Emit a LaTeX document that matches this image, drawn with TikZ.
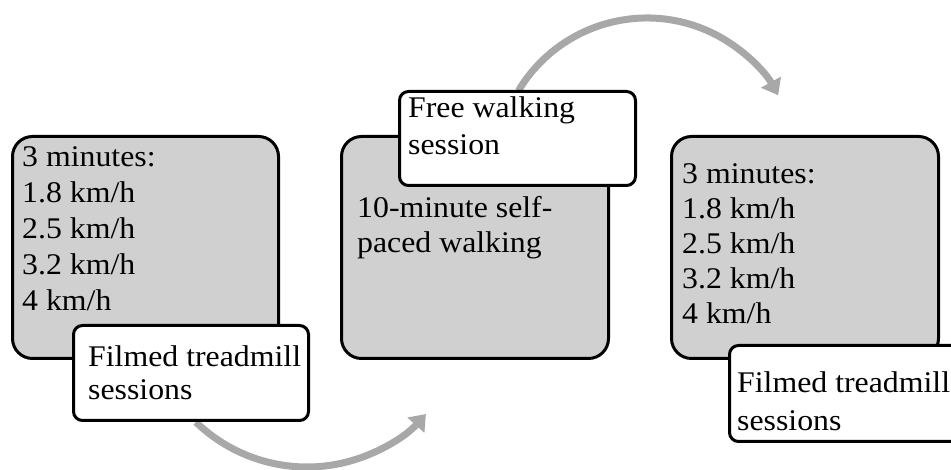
\documentclass[tikz,border=0pt]{standalone}
\usepackage{fontspec}
\setmainfont{Liberation Serif}[FakeStretch=1.06]
\usetikzlibrary{arrows.meta}
\definecolor{boxgrey}{RGB}{208,208,208}
\definecolor{arrowgrey}{RGB}{168,168,168}
\tikzset{
  greybox/.style={draw=black, fill=boxgrey, line width=3pt, rounded corners=20pt},
  whitebox/.style={draw=black, fill=white, line width=3pt, rounded corners=9pt},
  txt/.style={anchor=base west, inner sep=0pt, align=left, font=\fontsize{30}{36}\selectfont},
  flow/.style={draw=arrowgrey, line width=7pt, -{Triangle[width=22pt,length=15pt]}}
}
\begin{document}
\begin{tikzpicture}[x=1pt,y=1pt]
\useasboundingbox (0,0) rectangle (951,470);
% arcs (drawn first, under the boxes)
\coordinate (c1) at (307,163);
\coordinate (c2) at (647,302);
\draw[flow] (c1) ++(226:160) coordinate (a1s) arc[start angle=226, end angle=318, radius=160] coordinate (a1e);
\draw[flow] (c2) ++(149:150) coordinate (a2s) arc[start angle=149, end angle=29, radius=150] coordinate (a2e);
% box 1 (text anchored at the baseline of its last line)
\node[greybox, minimum width=266pt, minimum height=222pt, anchor=south west] (g1) at (11,110) {};
\node[txt] (t1) at (22,159) {3 minutes:\\1.8 km/h\\2.5 km/h\\3.2 km/h\\4 km/h};
\node[whitebox, minimum width=235pt, minimum height=95pt, anchor=south west] (w1) at (72,48) {};
\node[txt, font=\fontsize{30}{33}\selectfont] (u1) at (88,70) {Filmed treadmill\\sessions};
% box 2
\node[greybox, minimum width=267pt, minimum height=222pt, anchor=south west] (g2) at (340,110) {};
\node[txt, font=\fontsize{30}{35}\selectfont] (t2) at (357,217) {10-minute self-\\paced walking};
\node[whitebox, minimum width=236pt, minimum height=94pt, anchor=south west] (w2) at (398,283) {};
\node[txt, font=\fontsize{30}{37}\selectfont] (u2) at (408,315) {Free walking\\session};
% box 3
\node[greybox, minimum width=267pt, minimum height=222pt, anchor=south west] (g3) at (670,110) {};
\node[txt, font=\fontsize{30}{35}\selectfont] (t3) at (682,146) {3 minutes:\\1.8 km/h\\2.5 km/h\\3.2 km/h\\4 km/h};
\node[whitebox, minimum width=235pt, minimum height=96pt, anchor=south west] (w3) at (728,27) {};
\node[txt, font=\fontsize{30}{38}\selectfont] (u3) at (737,39) {Filmed treadmill\\sessions};
\end{tikzpicture}
\end{document}
